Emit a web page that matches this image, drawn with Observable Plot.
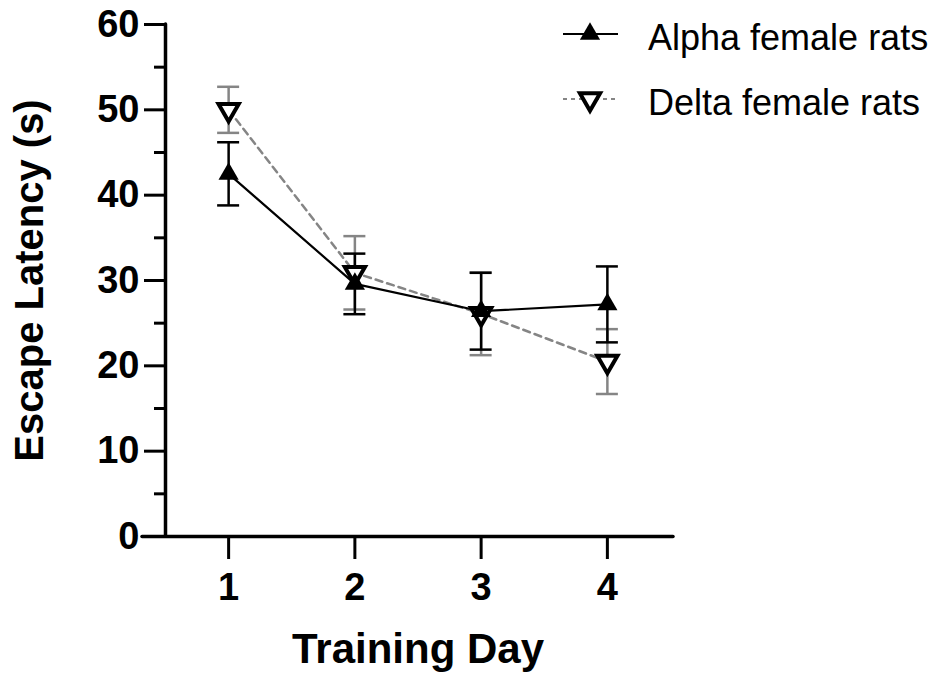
<!DOCTYPE html>
<html><head><meta charset="utf-8">
<script src="https://cdn.jsdelivr.net/npm/d3@7"></script>
<script src="https://cdn.jsdelivr.net/npm/@observablehq/plot@0.6"></script>
<style>
body{margin:0;background:#fff;}
#wrap{position:relative;width:946px;height:679px;}
#legend{position:absolute;left:0;top:0;}
</style></head><body><div id="wrap"></div>
<script>
const days = [1, 2, 3, 4];
const alphaMean = [42.5, 29.6, 26.4, 27.2];
const alphaSem = [3.7, 3.55, 4.5, 4.45];
const deltaMean = [50.0, 30.9, 26.1, 20.5];
const deltaSem = [2.7, 4.3, 4.85, 3.8];
const yMajorTicks = [0, 10, 20, 30, 40, 50, 60];
const yMinorTicks = [5, 15, 25, 35, 45, 55];
const seriesNames = ["Alpha female rats", "Delta female rats"];
const xTitle = "Training Day";
const yTitle = "Escape Latency (s)";
const xDomain = [0.5, 4.5];
const yDomain = [0, 60];

const alpha = days.map((d, i) => ({day: d, mean: alphaMean[i], lo: alphaMean[i] - alphaSem[i], hi: alphaMean[i] + alphaSem[i]}));
const delta = days.map((d, i) => ({day: d, mean: deltaMean[i], lo: deltaMean[i] - deltaSem[i], hi: deltaMean[i] + deltaSem[i]}));

const sqrt3 = Math.sqrt(3);
const triDown = {
  draw(context, size) {
    const y = -Math.sqrt(size / (sqrt3 * 3));
    context.moveTo(0, -y * 2);
    context.lineTo(-sqrt3 * y, y);
    context.lineTo(sqrt3 * y, y);
    context.closePath();
  }
};

const FONT = "'Liberation Sans', Arial, Helvetica, sans-serif";
const GREY = "#858585";

function errorBars(data, color) {
  return [
    Plot.ruleX(data, {x: "day", y1: "lo", y2: "hi", stroke: color, strokeWidth: 2.5}),
    Plot.ruleY(data, {y: "hi", x1: "day", x2: "day", insetLeft: -11, insetRight: -11, stroke: color, strokeWidth: 2.5}),
    Plot.ruleY(data, {y: "lo", x1: "day", x2: "day", insetLeft: -11, insetRight: -11, stroke: color, strokeWidth: 2.5})
  ];
}

const chart = Plot.plot({
  width: 946, height: 679,
  marginLeft: 165, marginRight: 276, marginTop: 24, marginBottom: 143,
  x: {domain: xDomain},
  y: {domain: yDomain},
  style: {fontFamily: FONT, background: "white", color: "black", fontWeight: "bold"},
  marks: [
    Plot.axisY({ticks: yMajorTicks, tickSize: 21, tickPadding: 5, strokeWidth: 3, fontSize: 38, fontWeight: "bold", label: null}),
    Plot.axisY({ticks: yMinorTicks, tickSize: 11, strokeWidth: 3, tickFormat: () => "", label: null}),
    Plot.axisX({ticks: days, tickFormat: d => String(d), tickSize: 23, tickPadding: 14, strokeWidth: 3, fontSize: 38, fontWeight: "bold", label: null}),
    Plot.ruleX([xDomain[0]], {y1: yDomain[0], y2: yDomain[1], strokeWidth: 3.5, strokeLinecap: "round"}),
    Plot.ruleY([yDomain[0]], {x1: xDomain[0], x2: xDomain[1], insetLeft: -23, insetRight: -3, strokeWidth: 3.5, strokeLinecap: "round"}),
    ...errorBars(delta, GREY),
    ...errorBars(alpha, "black"),
    Plot.line(delta, {x: "day", y: "mean", stroke: GREY, strokeWidth: 2.5, strokeDasharray: "7,5"}),
    Plot.line(alpha, {x: "day", y: "mean", stroke: "black", strokeWidth: 2.2}),
    Plot.dot(delta, {x: "day", y: "mean", symbol: triDown, r: 7.5, fill: "white", stroke: "black", strokeWidth: 4}),
    Plot.dot(alpha, {x: "day", y: "mean", symbol: "triangle", r: 7.5, fill: "black", stroke: "none"}),
    Plot.text([yTitle], {text: d => d, frameAnchor: "left", textAnchor: "middle", rotate: -90, dx: -135, fontSize: 40, fontWeight: "bold"}),
    Plot.text([xTitle], {text: d => d, frameAnchor: "bottom", textAnchor: "middle", dy: 126, fontSize: 42, fontWeight: "bold"})
  ]
});

const wrap = document.getElementById("wrap");
wrap.appendChild(chart);

// Legend overlay
const legend = d3.select(wrap).append("svg").attr("id", "legend")
  .attr("width", 946).attr("height", 140)
  .style("font-family", FONT);
const rows = [
  {name: seriesNames[0], y: 34, stroke: "black", dash: null, sym: d3.symbolTriangle, fill: "black", sw: 2.2, symStroke: "none"},
  {name: seriesNames[1], y: 99, stroke: GREY, dash: "4,4", sym: triDown, fill: "white", sw: 2, symStroke: "black"}
];
const size = 7.5 * 7.5 * Math.PI;
rows.forEach((r, i) => {
  const g = legend.append("g").attr("transform", `translate(0,${r.y})`);
  g.append("line").attr("x1", 563).attr("x2", 618).attr("y1", 0).attr("y2", 0)
    .attr("stroke", r.stroke).attr("stroke-width", r.sw).attr("stroke-dasharray", r.dash);
  g.append("path").attr("transform", "translate(590,0)")
    .attr("d", d3.symbol(r.sym, size)())
    .attr("fill", r.fill).attr("stroke", r.symStroke).attr("stroke-width", 4);
  g.append("text").attr("x", 648).attr("y", 3).attr("dy", "0.35em")
    .attr("font-size", 36).attr("fill", "black").text(r.name);
});
</script></body></html>
